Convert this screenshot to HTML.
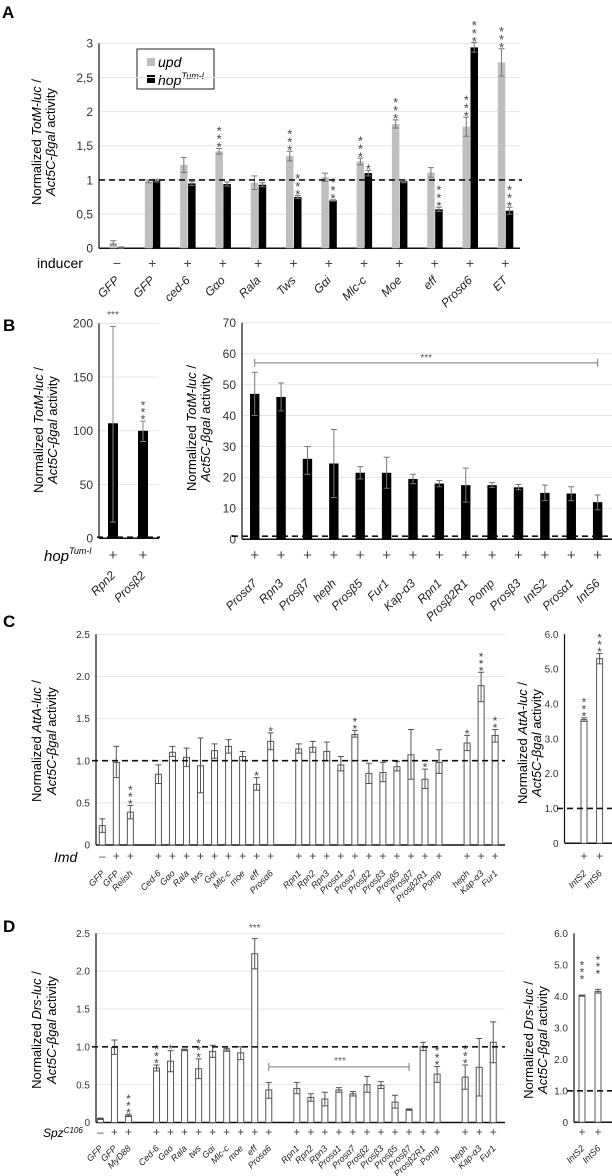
<!DOCTYPE html>
<html><head><meta charset="utf-8">
<style>
html,body{margin:0;padding:0;background:#fff;}
svg{display:block;font-family:"Liberation Sans",sans-serif;}
</style></head>
<body>
<svg id="fig" width="612" height="1176" viewBox="0 0 612 1176" xmlns="http://www.w3.org/2000/svg">
<text x="2" y="18" font-size="17" font-weight="bold">A</text>
<text x="3" y="331" font-size="17" font-weight="bold">B</text>
<text x="3" y="627" font-size="17" font-weight="bold">C</text>
<text x="3" y="932" font-size="17" font-weight="bold">D</text>

<g>
<rect x="137" y="49" width="77" height="40" fill="#fff" stroke="#222" stroke-width="1"/>
<rect x="147" y="58" width="8" height="8" fill="#bfbfbf"/>
<text x="158" y="67" font-size="14" font-style="italic">upd</text>
<rect x="147" y="75" width="8" height="8" fill="#000"/>
<text x="158" y="85" font-size="14" font-style="italic">hop<tspan font-size="9" dy="-6">Tum-l</tspan></text>
</g>

<text x="37" y="268" font-size="14">inducer</text>
<text x="44" y="561" font-size="15" font-style="italic">hop<tspan font-size="9" dy="-7">Tum-l</tspan></text>
<text x="54" y="862" font-size="14" font-style="italic">Imd</text>
<text x="43" y="1137" font-size="12" font-style="italic">Spz<tspan font-size="8" dy="-4">C106</tspan></text>

<text transform="translate(41,142) rotate(-90)" text-anchor="middle" font-size="13">Normalized <tspan font-style="italic">TotM-luc</tspan> /</text>
<text transform="translate(55,142) rotate(-90)" text-anchor="middle" font-size="13"><tspan font-style="italic">Act5C-βgal</tspan> activity</text>
<text transform="translate(43,430) rotate(-90)" text-anchor="middle" font-size="13">Normalized <tspan font-style="italic">TotM-luc</tspan> /</text>
<text transform="translate(57,430) rotate(-90)" text-anchor="middle" font-size="13"><tspan font-style="italic">Act5C-βgal</tspan> activity</text>
<text transform="translate(196,428) rotate(-90)" text-anchor="middle" font-size="13">Normalized <tspan font-style="italic">TotM-luc</tspan> /</text>
<text transform="translate(210,428) rotate(-90)" text-anchor="middle" font-size="13"><tspan font-style="italic">Act5C-βgal</tspan> activity</text>
<text transform="translate(41,741) rotate(-90)" text-anchor="middle" font-size="13">Normalized <tspan font-style="italic">AttA-luc</tspan> /</text>
<text transform="translate(56,741) rotate(-90)" text-anchor="middle" font-size="13"><tspan font-style="italic">Act5C-βgal</tspan> activity</text>
<text transform="translate(527,743) rotate(-90)" text-anchor="middle" font-size="13">Normalized <tspan font-style="italic">AttA-luc</tspan> /</text>
<text transform="translate(541,743) rotate(-90)" text-anchor="middle" font-size="13"><tspan font-style="italic">Act5C-βgal</tspan> activity</text>
<text transform="translate(41,1030) rotate(-90)" text-anchor="middle" font-size="13">Normalized <tspan font-style="italic">Drs-luc</tspan> /</text>
<text transform="translate(56,1030) rotate(-90)" text-anchor="middle" font-size="13"><tspan font-style="italic">Act5C-βgal</tspan> activity</text>
<text transform="translate(533,1040) rotate(-90)" text-anchor="middle" font-size="13">Normalized <tspan font-style="italic">Drs-luc</tspan> /</text>
<text transform="translate(547,1040) rotate(-90)" text-anchor="middle" font-size="13"><tspan font-style="italic">Act5C-βgal</tspan> activity</text>
</svg>
<script>
// ---------- Panel A data ----------
const aCats = ['GFP','GFP','ced-6','Gαo','Rala','Tws','Gαi','Mlc-c','Moe','eff','Prosα6','ET'];
const aSigns = ['−','+','+','+','+','+','+','+','+','+','+','+'];
const aUpd = [0.08,0.98,1.22,1.42,0.96,1.35,1.04,1.27,1.82,1.11,1.78,2.72];
const aUpdErr = [0.03,0.02,0.11,0.04,0.10,0.07,0.06,0.05,0.06,0.07,0.14,0.20];
const aHop = [0.01,0.99,0.95,0.94,0.93,0.75,0.70,1.10,0.98,0.57,2.94,0.55];
const aHopErr = [0.01,0.02,0.03,0.03,0.03,0.02,0.01,0.04,0.02,0.03,0.07,0.05];
const aUpdStars = [0,0,0,3,0,3,0,3,3,0,3,3];
const aHopStars = [0,0,0,0,0,3,3,1,0,3,3,3];
const aTicks = [0,0.5,1,1.5,2,2.5,3];
const aTickLabels = ['0','0,5','1','1,5','2','2,5','3'];

// ---------- Panel B data ----------
const bLeftCats = ['Rpn2','Prosβ2'];
const bLeftVals = [107,100];
const bLeftLo = [15,90];
const bLeftHi = [197,109];
const bLeftStars = [3,3];
const bLeftTicks = [0,50,100,150,200];
const bRightCats = ['Prosα7','Rpn3','Prosβ7','heph','Prosβ5','Fur1','Kap-α3','Rpn1','Prosβ2R1','Pomp','Prosβ3','IntS2','Prosα1','IntS6'];
const bRightVals = [47,46,26,24.5,21.5,21.5,19.5,18,17.5,17.5,16.8,15,14.8,12];
const bRightLo = [40,41.5,21,13.5,19.5,16.5,18,17,12,16.8,16,12.5,12.5,9.5];
const bRightHi = [54,50.5,30,35.5,23.5,26.5,21,19,23,18.3,17.7,17.5,17,14.3];
const bRightTicks = [0,10,20,30,40,50,60,70];
const bBracketValue = 57;

// ---------- Panel C data ----------
const cGroups = [['GFP','GFP','Relish'],['Ced-6','Gαo','Rala','tws','Gαi','Mlc-c','moe','eff','Prosα6'],['Rpn1','Rpn2','Rpn3','Prosα1','Prosα7','Prosβ2','Prosβ3','Prosβ5','Prosβ7','Prosβ2R1','Pomp'],['heph','Kap-α3','Fur1']];
const cVals = [0.23,0.98,0.39, 0.84,1.10,1.04,0.94,1.12,1.17,1.05,0.72,1.23, 1.14,1.16,1.11,0.95,1.31,0.85,0.86,0.93,1.07,0.78,0.98, 1.21,1.89,1.30];
const cLo = [0.15,0.80,0.31, 0.73,1.05,0.93,0.62,1.03,1.09,1.00,0.65,1.13, 1.09,1.10,1.00,0.88,1.28,0.73,0.75,0.88,0.78,0.67,0.85, 1.12,1.70,1.22];
const cHi = [0.31,1.17,0.47, 0.95,1.17,1.15,1.27,1.20,1.25,1.11,0.80,1.33, 1.20,1.23,1.22,1.05,1.36,0.97,0.98,0.99,1.37,0.90,1.13, 1.30,2.05,1.37];
const cStars = [0,0,3, 0,0,0,0,0,0,0,1,1, 0,0,0,0,2,0,0,0,0,1,0, 1,3,2];
const cTicks = [0,0.5,1,1.5,2,2.5];
const cTickLabels = ['0','0.5','1.0','1.5','2.0','2.5'];
const cInsetCats = ['IntS2','IntS6'];
const cInsetVals = [3.55,5.3];
const cInsetLo = [3.5,5.15];
const cInsetHi = [3.6,5.45];
const cInsetStars = [3,3];
const insetTicks = [0,1,2,3,4,5,6];
const insetTickLabels = ['0','1.0','2.0','3.0','4.0','5.0','6.0'];

// ---------- Panel D data ----------
const dGroups = [['GFP','GFP','MyD88'],['Ced-6','Gαo','Rala','tws','Gαi','Mlc-c','moe','eff','Prosα6'],['Rpn1','Rpn2','Rpn3','Prosα1','Prosα7','Prosβ2','Prosβ3','Prosβ5','Prosβ7','Prosβ2R1','Pomp'],['heph','Kap-α3','Fur1']];
const dVals = [0.05,0.99,0.09, 0.72,0.81,0.96,0.71,0.94,0.96,0.92,2.23,0.43, 0.45,0.33,0.31,0.43,0.38,0.50,0.49,0.27,0.17,1.00,0.64, 0.60,0.73,1.06];
const dLo = [0.04,0.90,0.08, 0.68,0.67,0.95,0.58,0.86,0.94,0.83,2.03,0.32, 0.38,0.28,0.22,0.40,0.35,0.40,0.45,0.19,0.16,0.95,0.53, 0.44,0.35,0.79];
const dHi = [0.06,1.09,0.11, 0.76,0.95,0.97,0.84,1.02,0.98,1.00,2.43,0.53, 0.53,0.38,0.40,0.46,0.41,0.61,0.54,0.36,0.18,1.06,0.74, 0.76,1.11,1.33];
const dStars = [0,0,3, 3,1,0,3,0,0,0,0,0, 0,0,0,0,0,0,0,0,0,0,3, 3,0,0];
const dInsetVals = [4.02,4.15];
const dInsetLo = [4.0,4.1];
const dInsetHi = [4.04,4.22];
const dInsetStars = [3,3];
const dBracketValue = 0.735;

const NS = 'http://www.w3.org/2000/svg';
const svg = document.getElementById('fig');
function mk(tag, attrs, parent){
  const e = document.createElementNS(NS, tag);
  for (const k in attrs) e.setAttribute(k, attrs[k]);
  (parent || svg).appendChild(e);
  return e;
}
function scale(y0, ytop, vmax){ return v => y0 - (y0 - ytop) * v / vmax; }

function axes(prefix, x0, x1, y, ticks, labels, fs, grid){
  const g = mk('g', {});
  
  
  ticks.forEach((t, i) => {
    if (grid && t > 0) mk('line', {x1:x0, x2:x1, y1:y(t), y2:y(t), stroke:'#e4e4e4', 'stroke-width':1}, g);
    const lb = mk('text', {x:x0 - 6, y:y(t) + fs*0.36, 'text-anchor':'end', 'font-size':fs, fill:'#333'}, g);
    lb.textContent = labels[i];
    
    
  });
  mk('line', {x1:x0, x2:x0, y1:y(ticks[ticks.length-1]), y2:y(0), stroke:'#111', 'stroke-width':1.2}, g);
  mk('line', {x1:x0, x2:x1, y1:y(0), y2:y(0), stroke:'#111', 'stroke-width':1.5}, g);
}
function dashed(prefix, x0, x1, yy){
  const l = mk('line', {x1:x0, x2:x1, y1:yy, y2:yy, stroke:'#111', 'stroke-width':1.6, 'stroke-dasharray':'6,4'});
  
  
}
function bar(prefix, label, left, w, v, lo, hi, y, fill, stroke, errc){
  const r = mk('rect', {x:left, y:y(v), width:w, height:y(0)-y(v), fill:fill, stroke:stroke, 'stroke-width':stroke==='none'?0:1});
  
  
  const cx = left + w/2, cw = Math.min(3, w/2);
  const e = mk('path', {d:`M${cx},${y(lo)}V${y(hi)}M${cx-cw},${y(hi)}H${cx+cw}M${cx-cw},${y(lo)}H${cx+cw}`, stroke:errc, 'stroke-width':1, fill:'none'});
  
  
}
function stars(prefix, cx, topPx, n, fs, sp){
  for (let k = 0; k < n; k++){
    const t = mk('text', {x:cx, y:topPx - 4 - k*sp + fs*0.55, 'text-anchor':'middle', 'font-size':fs, fill:'#444'});
    t.textContent = '*';
    
    
  }
}
function xlabel(prefix, cx, yy, s, fs){
  const t = mk('text', {transform:`translate(${cx+3},${yy}) rotate(-45)`, 'text-anchor':'end', 'font-size':fs, 'font-style':'italic', fill:'#222'});
  t.textContent = s;
  
  
}
function sign(prefix, cx, yy, s, fs){
  const t = mk('text', {x:cx, y:yy, 'text-anchor':'middle', 'font-size':fs, fill:'#444'});
  t.textContent = s;
  
  
}

// ---------- Panel A ----------
(function(){
  const y = scale(248.3, 43.3, 3);
  axes('panel-a', 99, 520, y, aTicks, aTickLabels, 12, true);
  aCats.forEach((c, i) => {
    const cx = 117 + i*35.3;
    bar('panel-a-upd', c, cx-7.5, 7.5, aUpd[i], aUpd[i]-aUpdErr[i], aUpd[i]+aUpdErr[i], y, '#bfbfbf', 'none', '#777');
    bar('panel-a-hop', c, cx+0.5, 7.5, aHop[i], aHop[i]-aHopErr[i], aHop[i]+aHopErr[i], y, '#000', 'none', '#777');
    stars('panel-a', cx-3.75, y(aUpd[i]+aUpdErr[i]), aUpdStars[i], 13, 8);
    stars('panel-a', cx+4.25, y(aHop[i]+aHopErr[i]), aHopStars[i], 13, 8);
    sign('panel-a', cx, 268, aSigns[i], 14);
    xlabel('panel-a', cx, 281, c, 12);
  });
  dashed('panel-a', 99, 522, y(1));
})();

// ---------- Panel B ----------
(function(){
  const y = scale(538.3, 323.3, 200);
  axes('panel-b-left', 99, 159, y, bLeftTicks, bLeftTicks.map(String), 12, true);
  bLeftCats.forEach((c, i) => {
    const cx = 113 + i*30;
    bar('panel-b-left', c, cx-5, 10, bLeftVals[i], bLeftLo[i], bLeftHi[i], y, '#000', 'none', '#888');
    sign('panel-b-left', cx, 560, '+', 15);
    xlabel('panel-b-left', cx, 576, c, 12);
  });
  const t1 = mk('text', {x:113, y:318, 'text-anchor':'middle', 'font-size':10, fill:'#555'});
  t1.textContent = '***';
  
  
  stars('panel-b-left', 143, y(bLeftHi[1]), bLeftStars[1], 12, 7);
  dashed('panel-b-left', 97, 160, y(1));

  const y2 = scale(539.3, 322.7, 70);
  axes('panel-b-right', 242, 612, y2, bRightTicks, bRightTicks.map(String), 12, true);
  bRightCats.forEach((c, i) => {
    const cx = 254.7 + i*26.38;
    bar('panel-b-right', c, cx-4.7, 9.4, bRightVals[i], bRightLo[i], bRightHi[i], y2, '#000', 'none', '#777');
    sign('panel-b-right', cx, 560, '+', 15);
    xlabel('panel-b-right', cx, 584, c, 12);
  });
  const bx0 = 254.7, bx1 = 254.7 + 13*26.38, by = y2(bBracketValue);
  const br = mk('path', {d:`M${bx0},${by+4}V${by-4}M${bx0},${by}H${bx1}M${bx1},${by+4}V${by-4}`, stroke:'#777', 'stroke-width':1, fill:'none'});
  
  
  const t2 = mk('text', {x:(bx0+bx1)/2, y:by-2, 'text-anchor':'middle', 'font-size':10, fill:'#555'});
  t2.textContent = '***';
  
  
  dashed('panel-b-right', 232, 612, y2(1));
})();

// ---------- Panels C & D helper ----------
function groupedPanel(prefix, groups, vals, lo, hi, st, y, x0start, signY, labY, firstSign){
  let slot = 0, idx = 0;
  groups.forEach(g => {
    g.forEach(c => {
      const cx = x0start + slot*14.03;
      bar(prefix, c, cx-3, 6, vals[idx], lo[idx], hi[idx], y, '#fff', '#555', '#555');
      stars(prefix, cx, y(hi[idx]), st[idx], 12, 7);
      sign(prefix, cx, signY, idx === 0 ? firstSign : '+', 12);
      xlabel(prefix, cx, labY, c, 9);
      slot++; idx++;
    });
    slot++;
  });
}

// ---------- Panel C ----------
(function(){
  const y = scale(845, 634.3, 2.5);
  axes('panel-c', 96, 505, y, cTicks, cTickLabels, 10, true);
  groupedPanel('panel-c', cGroups, cVals, cLo, cHi, cStars, y, 102.3, 860, 874, '–');
  dashed('panel-c', 92, 505, y(1));
  const yi = scale(843.3, 634.3, 6);
  axes('panel-c-inset', 564.5, 612, yi, insetTicks, insetTickLabels, 10, false);
  cInsetCats.forEach((c, i) => {
    const cx = 584 + i*15.6;
    bar('panel-c-inset', c, cx-3, 6, cInsetVals[i], cInsetLo[i], cInsetHi[i], yi, '#fff', '#555', '#555');
    stars('panel-c-inset', cx, yi(cInsetHi[i]), cInsetStars[i], 12, 7);
    sign('panel-c-inset', cx, 860, '+', 12);
    xlabel('panel-c-inset', cx, 874, c, 9);
  });
  dashed('panel-c-inset', 557, 612, yi(1));
})();

// ---------- Panel D ----------
(function(){
  const y = scale(1122.5, 933.3, 2.5);
  axes('panel-d', 96, 505, y, cTicks, cTickLabels, 10, true);
  groupedPanel('panel-d', dGroups, dVals, dLo, dHi, dStars, y, 100.4, 1136, 1149, '–');
  const t = mk('text', {x:100.4 + 11*14.03, y:931, 'text-anchor':'middle', 'font-size':10, fill:'#555'});
  t.textContent = '***';
  
  
  const bx0 = 100.4 + 12*14.03, bx1 = 100.4 + 22*14.03, by = y(dBracketValue);
  const br = mk('path', {d:`M${bx0},${by+4}V${by-4}M${bx0},${by}H${bx1}M${bx1},${by+4}V${by-4}`, stroke:'#777', 'stroke-width':1, fill:'none'});
  
  
  const t2 = mk('text', {x:340, y:by-3, 'text-anchor':'middle', 'font-size':10, fill:'#555'});
  t2.textContent = '***';
  
  
  dashed('panel-d', 92, 505, y(1));
  const yi = scale(1122.3, 933.3, 6);
  axes('panel-d-inset', 574, 612, yi, insetTicks, insetTickLabels, 10, false);
  cInsetCats.forEach((c, i) => {
    const cx = 582 + i*16;
    bar('panel-d-inset', c, cx-3, 6, dInsetVals[i], dInsetLo[i], dInsetHi[i], yi, '#fff', '#555', '#555');
    stars('panel-d-inset', cx, yi(dInsetHi[i]) - 14, dInsetStars[i], 12, 7);
    sign('panel-d-inset', cx, 1136, '+', 12);
    xlabel('panel-d-inset', cx, 1149, c, 9);
  });
  dashed('panel-d-inset', 567, 612, yi(1));
})();
</script>
</body></html>
